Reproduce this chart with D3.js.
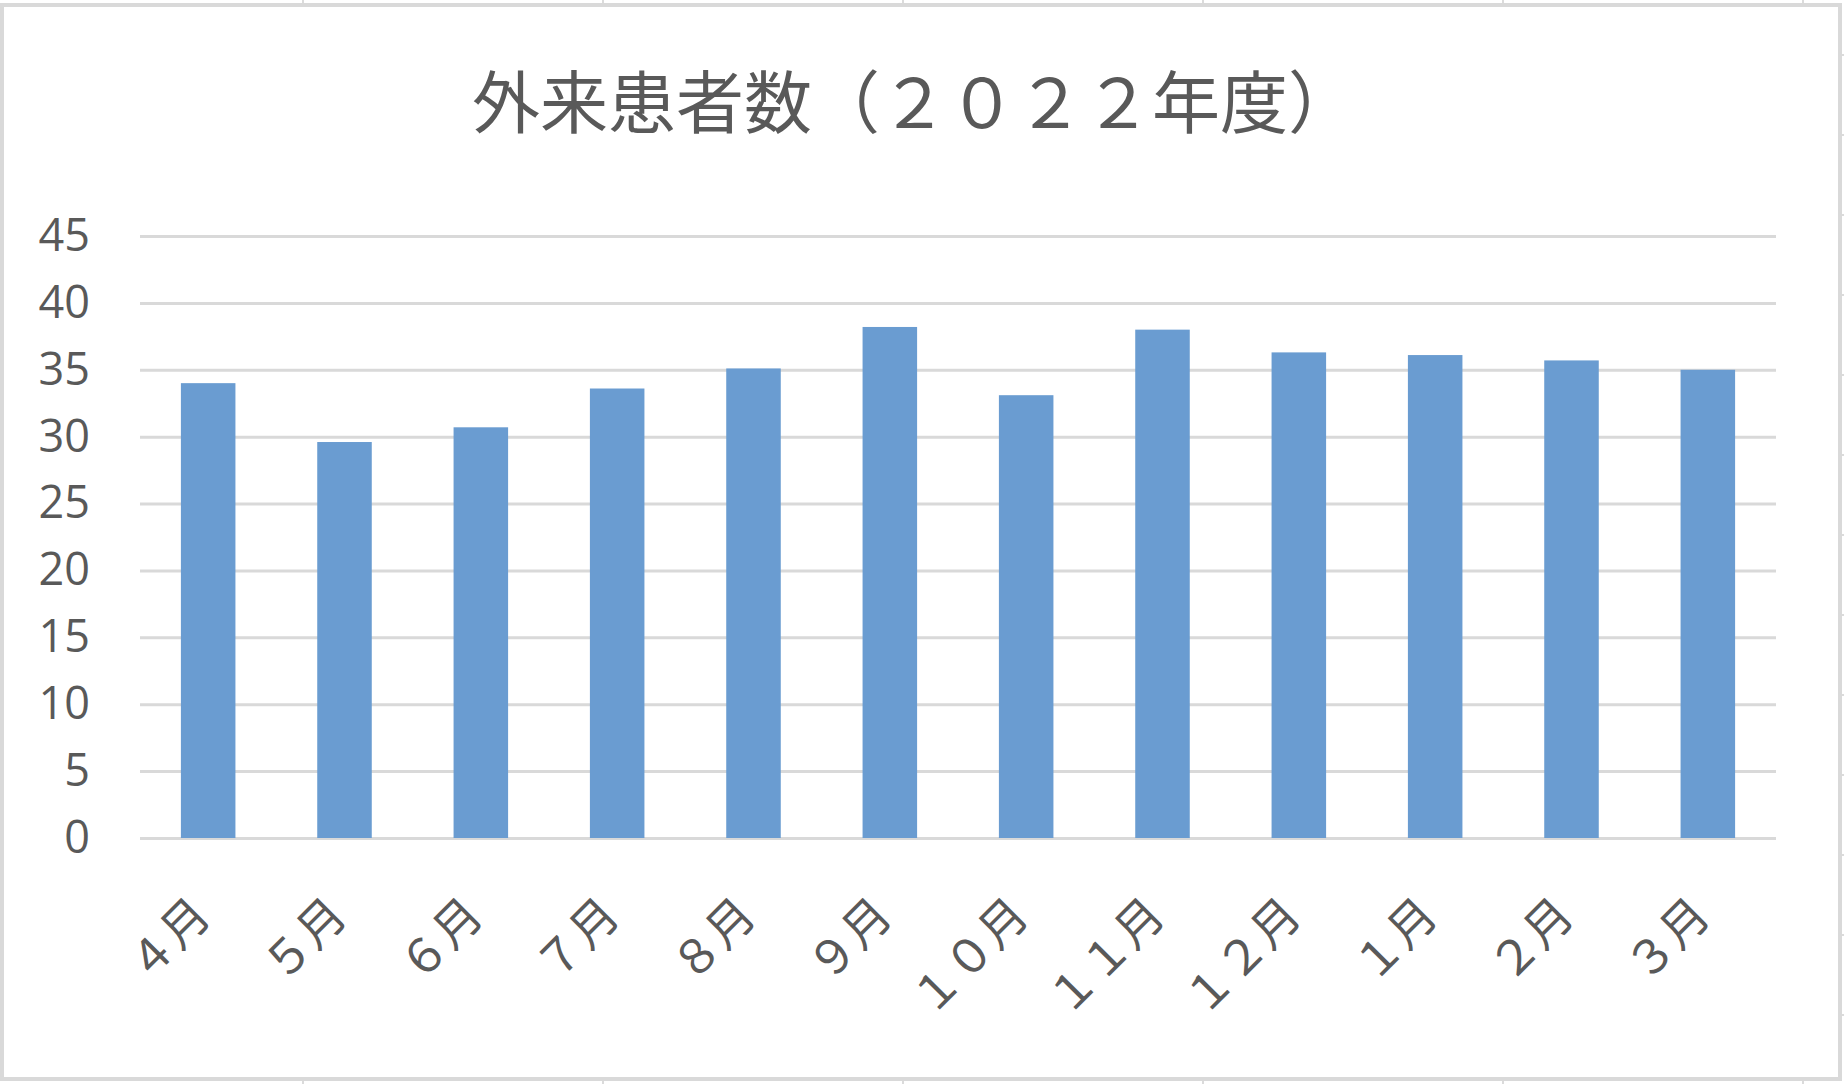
<!DOCTYPE html>
<html><head><meta charset="utf-8">
<script src="https://cdn.jsdelivr.net/npm/d3@7"></script>
<style>body{margin:0;background:#fff;overflow:hidden}</style>
</head><body>
<svg id="chart" width="1844" height="1084"></svg>
<script>
const chartTitle = "外来患者数（２０２２年度）";
const months = ["４月","５月","６月","７月","８月","９月","１０月","１１月","１２月","１月","２月","３月"];
const patients = [34.0, 29.6, 30.7, 33.6, 35.1, 38.2, 33.1, 38.0, 36.3, 36.1, 35.7, 35.0];
const yTicks = [0, 5, 10, 15, 20, 25, 30, 35, 40, 45];
const sheetCols = [303, 603, 903, 1203, 1503, 1803];
const sheetRows = [55, 135, 215, 295, 375, 455, 535, 615, 695, 775, 855, 935, 1015];

(function () {
const W = 1844, H = 1084;
const svg = d3.select("#chart");
const textColor = "#595959";
const gridColor = "#d9d9d9";

// sheet cell-grid marks peeking outside chart
const sheet = svg.append("g").attr("stroke", "#cfcfcf").attr("stroke-width", 1.5);
sheet.selectAll("line.t").data(sheetCols).join("line").attr("class", "t")
  .attr("x1", d => d).attr("x2", d => d).attr("y1", 0).attr("y2", 3);
sheet.selectAll("line.b").data(sheetCols).join("line").attr("class", "b")
  .attr("x1", d => d).attr("x2", d => d).attr("y1", 1081).attr("y2", 1084);
sheet.selectAll("line.r").data(sheetRows).join("line").attr("class", "r")
  .attr("x1", 1841).attr("x2", 1844).attr("y1", d => d).attr("y2", d => d);

// chart border
svg.append("rect").attr("x", 2).attr("y", 5).attr("width", 1838).attr("height", 1074)
  .attr("fill", "#fff").attr("stroke", gridColor).attr("stroke-width", 4);

const pLeft = 140, pRight = 1776, pTop = 236, pBottom = 838;
const x = d3.scaleBand().domain(months).range([pLeft, pRight]).paddingInner(0.6).paddingOuter(0.3);
const y = d3.scaleLinear().domain([0, 45]).range([pBottom, pTop]);

// title
svg.append("text").attr("x", 914).attr("y", 98)
  .attr("text-anchor", "middle").attr("dominant-baseline", "central")
  .attr("font-family", "'Noto Sans CJK JP', sans-serif").attr("font-size", 68)
  .attr("fill", textColor).text(chartTitle);

// y grid + labels
const yAxis = d3.axisLeft(y).tickValues(yTicks).tickSize(-(pRight - pLeft)).tickPadding(50).tickFormat(d3.format("d"));
const gy = svg.append("g").attr("transform", `translate(${pLeft},0)`).call(yAxis);
gy.select(".domain").remove();
gy.selectAll(".tick line").attr("stroke", gridColor).attr("stroke-width", 3);
gy.selectAll(".tick text").attr("fill", textColor)
  .attr("font-family", "'Open Sans', 'Noto Sans', sans-serif").attr("font-size", 45);

// bars
svg.append("g").selectAll("rect").data(patients).join("rect")
  .attr("x", (d, i) => x(months[i]))
  .attr("y", d => y(d))
  .attr("width", x.bandwidth())
  .attr("height", d => y(0) - y(d))
  .attr("fill", "#6a9cd1");

// x labels
const xAxis = d3.axisBottom(x).tickSize(0).tickPadding(0);
const gx = svg.append("g").attr("transform", `translate(0,${pBottom})`).call(xAxis);
gx.select(".domain").remove();
gx.selectAll(".tick text")
  .attr("fill", textColor)
  .attr("font-family", "'Noto Sans CJK JP', sans-serif").attr("font-size", 47)
  .attr("text-anchor", "end").attr("dy", null).attr("y", 0)
  .attr("transform", "translate(5,80) rotate(-45)");
})();
</script>
</body></html>
